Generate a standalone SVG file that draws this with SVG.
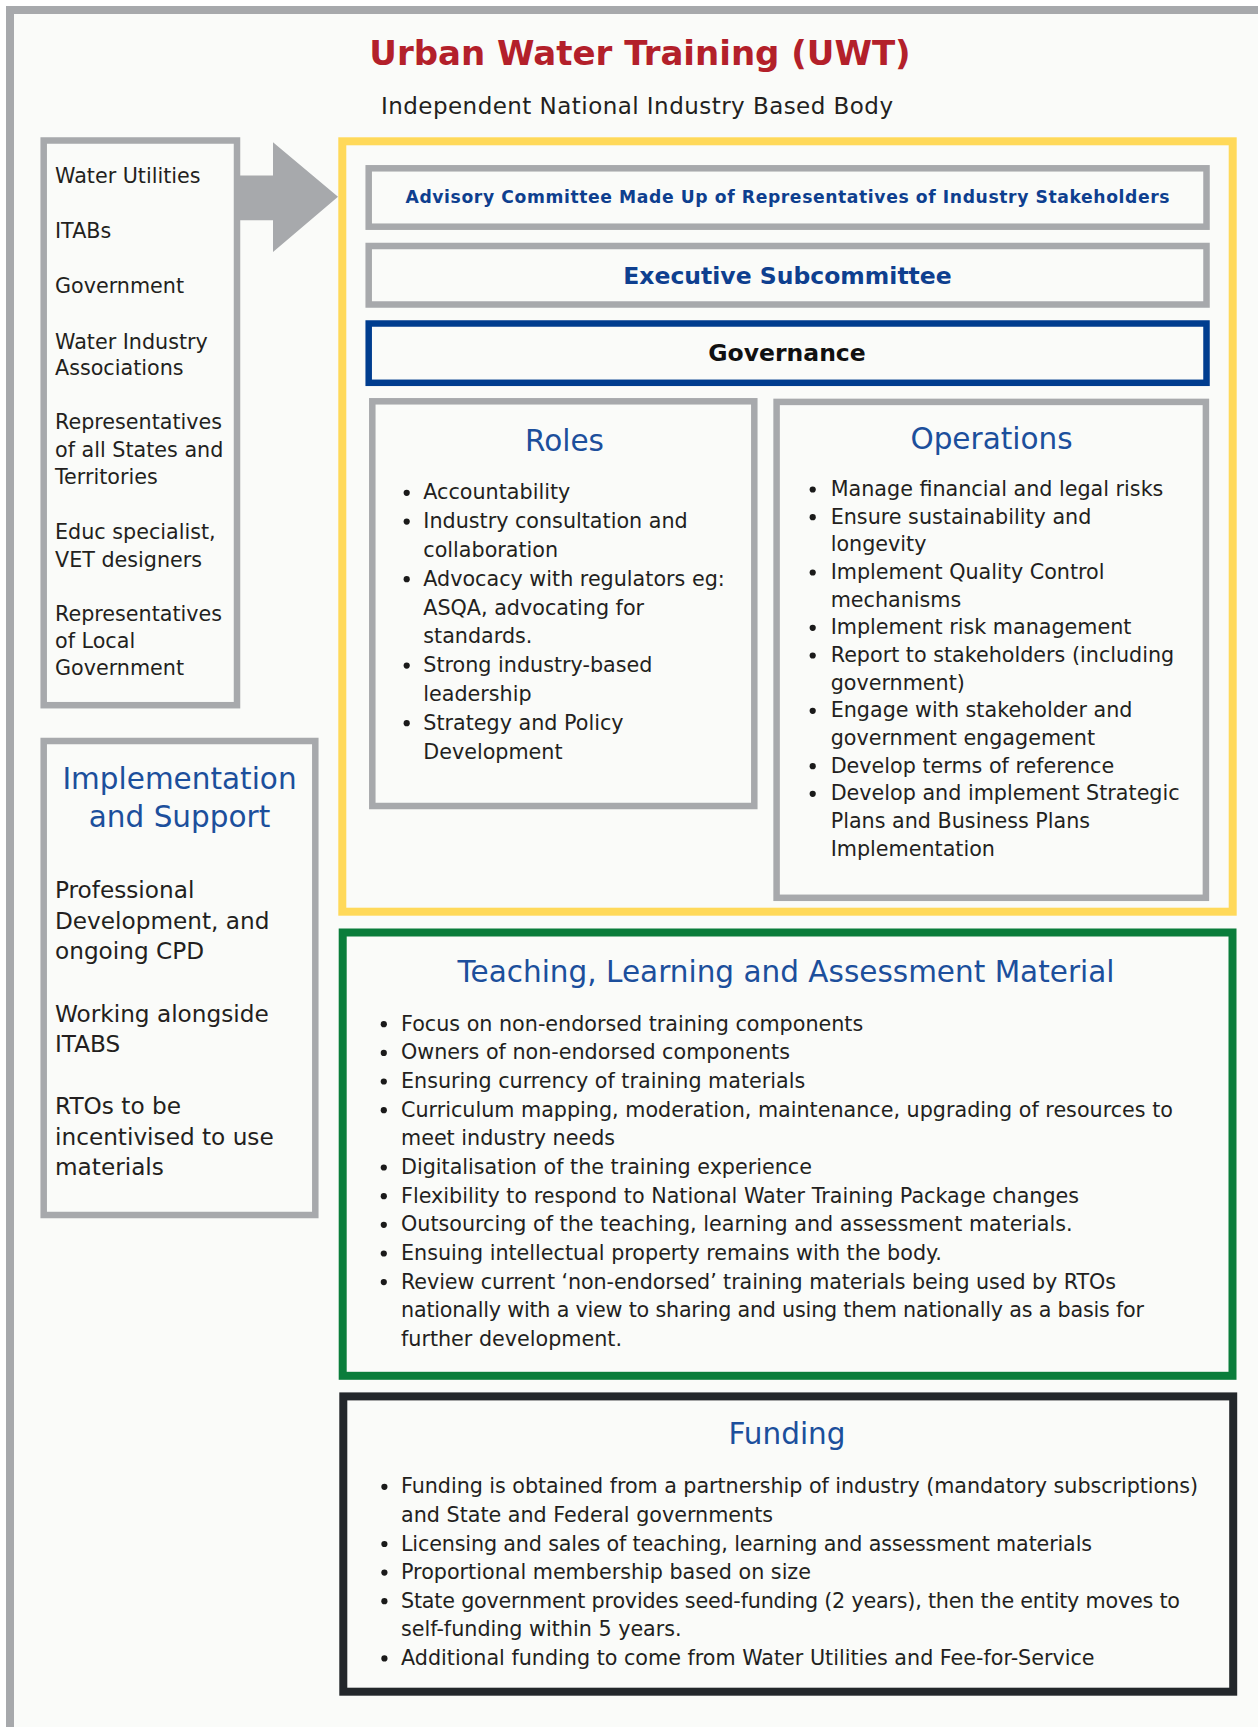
<svg xmlns="http://www.w3.org/2000/svg" width="1258" height="1727" viewBox="0 0 1258 1727">
  <style>
    text { font-family: "DejaVu Sans", "Liberation Sans", sans-serif; }
    .frame { fill: none; stroke: #A7A9AC; stroke-width: 8; }
    .gbox { fill: none; stroke: #A7A9AC; stroke-width: 6.5; }
    .side { font-size: 20.7px; fill: #231F20; }
    .side2 { font-size: 23.2px; fill: #231F20; }
    .body { font-size: 20.7px; fill: #231F20; }
    .head { font-size: 29.5px; fill: #1C4F9C; text-anchor: middle; }
    .bar { font-weight: bold; fill: #0E3F8F; text-anchor: middle; }
    .dot { fill: #1A1A1A; }
  </style>
  <defs>
    <circle id="bullet" r="3.1" class="dot"/>
  </defs>

  <!-- page background and outer frame -->
  <rect x="0" y="0" width="1258" height="1727" fill="#FFFFFF"/>
  <rect x="10" y="10" width="1248" height="1717" fill="#FAFBF9"/>
  <path class="frame" d="M10,1727 V10 H1258"/>

  <!-- heading -->
  <g id="title">
    <text x="640" y="65" text-anchor="middle" font-size="34" font-weight="bold" fill="#B3202A">Urban Water Training (UWT)</text>
    <text x="637" y="113.5" text-anchor="middle" font-size="23" fill="#231F20" textLength="512">Independent National Industry Based Body</text>
  </g>

  <!-- stakeholder list -->
  <g id="stakeholders">
    <rect class="gbox" x="43.7" y="140.5" width="193.3" height="564.7" stroke-width="6"/>
    <text class="side" x="55" y="183.1">Water Utilities</text>
    <text class="side" x="55" y="237.9">ITABs</text>
    <text class="side" x="55" y="293">Government</text>
    <text class="side" x="55" y="348.9">Water Industry</text>
    <text class="side" x="55" y="374.8">Associations</text>
    <text class="side" x="55" y="429.2">Representatives</text>
    <text class="side" x="55" y="456.6">of all States and</text>
    <text class="side" x="55" y="483.8">Territories</text>
    <text class="side" x="55" y="539">Educ specialist,</text>
    <text class="side" x="55" y="566.6">VET designers</text>
    <text class="side" x="55" y="621.3">Representatives</text>
    <text class="side" x="55" y="648.3">of Local</text>
    <text class="side" x="55" y="675.3">Government</text>
  </g>

  <!-- implementation and support -->
  <g id="implementation">
    <rect class="gbox" x="43.7" y="741" width="271.6" height="474" stroke-width="6"/>
    <text class="head" x="179.5" y="788.7">Implementation</text>
    <text class="head" x="179.5" y="826.8">and Support</text>
    <text class="side2" x="55" y="898">Professional</text>
    <text class="side2" x="55" y="928.8">Development, and</text>
    <text class="side2" x="55" y="959">ongoing CPD</text>
    <text class="side2" x="55" y="1021.8">Working alongside</text>
    <text class="side2" x="55" y="1052">ITABS</text>
    <text class="side2" x="55" y="1114">RTOs to be</text>
    <text class="side2" x="55" y="1144.5">incentivised to use</text>
    <text class="side2" x="55" y="1175">materials</text>
  </g>

  <!-- flow from stakeholders into the body -->
  <g id="connectors">
    <polygon fill="#A7A9AC" points="238,175.5 273,175.5 273,142.2 338,196.8 273,252 273,220.3 238,220.3"/>
  </g>

  <!-- the national body -->
  <g id="uwt-body">
    <rect x="342.3" y="141.3" width="890.4" height="770.4" fill="none" stroke="#FFD95A" stroke-width="8"/>
  </g>

  <g id="advisory">
    <rect class="gbox" x="368.7" y="168.3" width="837.8" height="58.4" stroke-width="7"/>
    <text class="bar" x="787.5" y="202.5" font-size="17.2" textLength="764">Advisory Committee Made Up of Representatives of Industry Stakeholders</text>
  </g>

  <g id="executive">
    <rect class="gbox" x="368.7" y="246" width="837.8" height="58.5" stroke-width="7"/>
    <text class="bar" x="787.5" y="283.5" font-size="23.5">Executive Subcommittee</text>
  </g>

  <g id="governance">
    <rect x="368.7" y="323.5" width="837.8" height="59.3" fill="none" stroke="#003D8F" stroke-width="6.5"/>
    <text x="787" y="361" text-anchor="middle" font-size="23.5" font-weight="bold" fill="#111111">Governance</text>
  </g>

  <g id="roles">
    <rect class="gbox" x="372.3" y="401.3" width="382" height="404.7" stroke-width="6"/>
    <text class="head" x="564.5" y="451">Roles</text>
    <use href="#bullet" x="406.7" y="492.8"/>
    <use href="#bullet" x="406.7" y="521.6"/>
    <use href="#bullet" x="406.7" y="579.2"/>
    <use href="#bullet" x="406.7" y="665.6"/>
    <use href="#bullet" x="406.7" y="723.2"/>
    <text class="body" x="423.3" y="499.3">Accountability</text>
    <text class="body" x="423.3" y="528.1">Industry consultation and</text>
    <text class="body" x="423.3" y="556.9">collaboration</text>
    <text class="body" x="423.3" y="585.7">Advocacy with regulators eg:</text>
    <text class="body" x="423.3" y="614.5">ASQA, advocating for</text>
    <text class="body" x="423.3" y="643.3">standards.</text>
    <text class="body" x="423.3" y="672.1">Strong industry-based</text>
    <text class="body" x="423.3" y="700.9">leadership</text>
    <text class="body" x="423.3" y="729.7">Strategy and Policy</text>
    <text class="body" x="423.3" y="758.5">Development</text>
  </g>

  <g id="operations">
    <rect class="gbox" x="776.6" y="401.9" width="429.3" height="495.9"/>
    <text class="head" x="991.5" y="448.6">Operations</text>
    <use href="#bullet" x="812.7" y="489.5"/>
    <use href="#bullet" x="812.7" y="517.2"/>
    <use href="#bullet" x="812.7" y="572.5"/>
    <use href="#bullet" x="812.7" y="627.8"/>
    <use href="#bullet" x="812.7" y="655.5"/>
    <use href="#bullet" x="812.7" y="710.8"/>
    <use href="#bullet" x="812.7" y="766.2"/>
    <use href="#bullet" x="812.7" y="793.8"/>
    <text class="body" x="830.7" y="496">Manage financial and legal risks</text>
    <text class="body" x="830.7" y="523.7">Ensure sustainability and</text>
    <text class="body" x="830.7" y="551.3">longevity</text>
    <text class="body" x="830.7" y="579">Implement Quality Control</text>
    <text class="body" x="830.7" y="606.7">mechanisms</text>
    <text class="body" x="830.7" y="634.3">Implement risk management</text>
    <text class="body" x="830.7" y="662">Report to stakeholders (including</text>
    <text class="body" x="830.7" y="689.7">government)</text>
    <text class="body" x="830.7" y="717.3">Engage with stakeholder and</text>
    <text class="body" x="830.7" y="745">government engagement</text>
    <text class="body" x="830.7" y="772.7">Develop terms of reference</text>
    <text class="body" x="830.7" y="800.3">Develop and implement Strategic</text>
    <text class="body" x="830.7" y="828">Plans and Business Plans</text>
    <text class="body" x="830.7" y="855.7">Implementation</text>
  </g>

  <g id="teaching-material">
    <rect x="342.7" y="932.5" width="889.8" height="443.3" fill="none" stroke="#0A7D3B" stroke-width="8"/>
    <text class="head" x="786" y="981.7">Teaching, Learning and Assessment Material</text>
    <use href="#bullet" x="383.8" y="1024.2"/>
    <use href="#bullet" x="383.8" y="1052.9"/>
    <use href="#bullet" x="383.8" y="1081.5"/>
    <use href="#bullet" x="383.8" y="1110.2"/>
    <use href="#bullet" x="383.8" y="1167.5"/>
    <use href="#bullet" x="383.8" y="1196.2"/>
    <use href="#bullet" x="383.8" y="1224.8"/>
    <use href="#bullet" x="383.8" y="1253.5"/>
    <use href="#bullet" x="383.8" y="1282.1"/>
    <text class="body" x="401" y="1030.7">Focus on non-endorsed training components</text>
    <text class="body" x="401" y="1059.4">Owners of non-endorsed components</text>
    <text class="body" x="401" y="1088">Ensuring currency of training materials</text>
    <text class="body" x="401" y="1116.7">Curriculum mapping, moderation, maintenance, upgrading of resources to</text>
    <text class="body" x="401" y="1145.3">meet industry needs</text>
    <text class="body" x="401" y="1174">Digitalisation of the training experience</text>
    <text class="body" x="401" y="1202.7">Flexibility to respond to National Water Training Package changes</text>
    <text class="body" x="401" y="1231.3">Outsourcing of the teaching, learning and assessment materials.</text>
    <text class="body" x="401" y="1260">Ensuing intellectual property remains with the body.</text>
    <text class="body" x="401" y="1288.6" textLength="715">Review current ‘non-endorsed’ training materials being used by RTOs</text>
    <text class="body" x="401" y="1317.3" textLength="743">nationally with a view to sharing and using them nationally as a basis for</text>
    <text class="body" x="401" y="1346">further development.</text>
  </g>

  <g id="funding">
    <rect x="343.3" y="1396.4" width="889.9" height="295.3" fill="none" stroke="#23272B" stroke-width="8"/>
    <text class="head" x="787" y="1444">Funding</text>
    <use href="#bullet" x="384.4" y="1486.8"/>
    <use href="#bullet" x="384.4" y="1544"/>
    <use href="#bullet" x="384.4" y="1572.6"/>
    <use href="#bullet" x="384.4" y="1601.2"/>
    <use href="#bullet" x="384.4" y="1658.4"/>
    <text class="body" x="401" y="1493.3" textLength="797">Funding is obtained from a partnership of industry (mandatory subscriptions)</text>
    <text class="body" x="401" y="1521.9">and State and Federal governments</text>
    <text class="body" x="401" y="1550.5" textLength="691">Licensing and sales of teaching, learning and assessment materials</text>
    <text class="body" x="401" y="1579.1">Proportional membership based on size</text>
    <text class="body" x="401" y="1607.7" textLength="779">State government provides seed-funding (2 years), then the entity moves to</text>
    <text class="body" x="401" y="1636.3">self-funding within 5 years.</text>
    <text class="body" x="401" y="1664.9">Additional funding to come from Water Utilities and Fee-for-Service</text>
  </g>
</svg>
